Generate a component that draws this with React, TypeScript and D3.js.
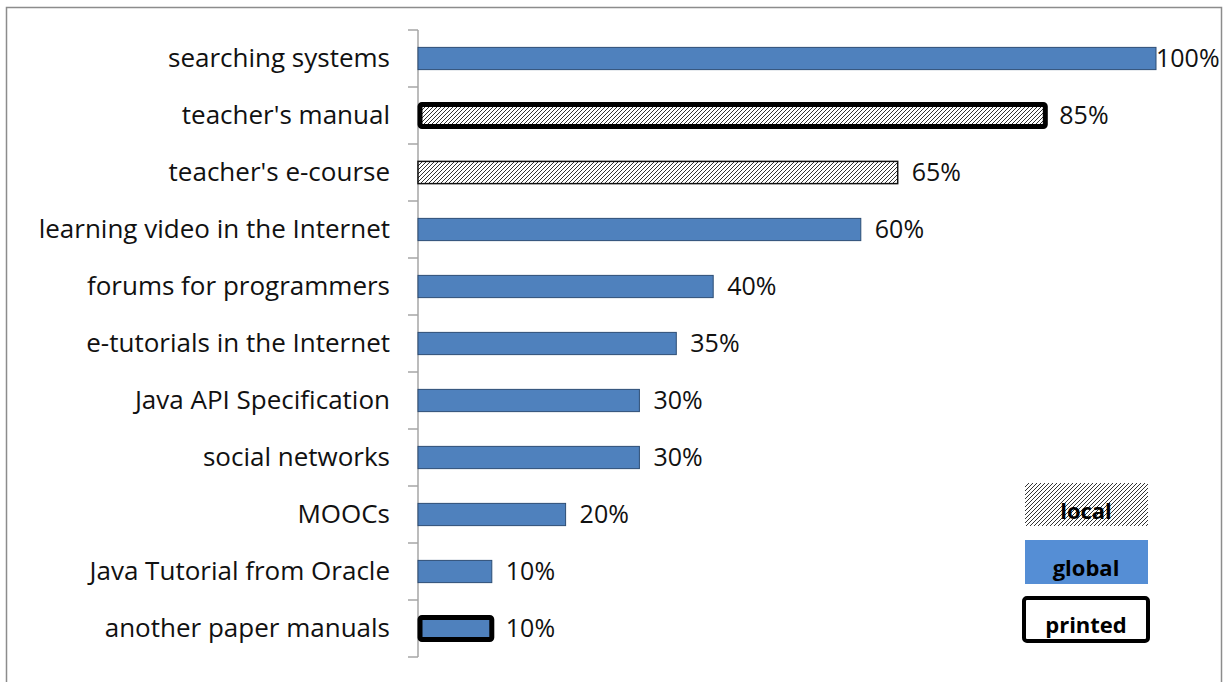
import React from "react";
import * as d3 from "d3";

const categories = [
  "searching systems",
  "teacher's manual",
  "teacher's e-course",
  "learning video in the Internet",
  "forums for programmers",
  "e-tutorials in the Internet",
  "Java API Specification",
  "social networks",
  "MOOCs",
  "Java Tutorial from Oracle",
  "another paper manuals",
];
const values = [100, 85, 65, 60, 40, 35, 30, 30, 20, 10, 10];
const kinds = ["global", "local", "local", "global", "global", "global", "global", "global", "global", "global", "global"];
const printed = [false, true, false, false, false, false, false, false, false, false, true];
const legendItems = ["local", "global", "printed"];

const W = 1227;
const H = 682;
const FONT = "'Open Sans', 'Noto Sans', sans-serif";

export default function App() {
  const x = d3.scaleLinear().domain([0, 100]).range([418, 1156]);
  const y = d3.scaleBand<string>().domain(categories).range([30, 657]).paddingInner(0.61).paddingOuter(0.305);
  const step = y.step();
  const ticks = d3.range(categories.length + 1).map((i) => 30 + i * step);
  const maxLabelX = 1156;

  return (
    <div style={{ position: "fixed", left: 0, top: 0 }}>
      <svg width={W} height={H} style={{ display: "block", background: "#fff" }}>
        <defs>
          <pattern id="hatch" patternUnits="userSpaceOnUse" width="4" height="4">
            <rect width="4" height="4" fill="#fff" />
            <path d="M-1,1 l2,-2 M0,4 l4,-4 M3,5 l2,-2" stroke="#333" strokeWidth="1" />
          </pattern>
        </defs>
        <rect x={6.5} y={7.5} width={1215} height={700} fill="none" stroke="#8c8c8c" strokeWidth={1.5} />
        {/* axis */}
        <line x1={418} x2={418} y1={30} y2={657} stroke="#a6a6a6" strokeWidth={1.5} />
        {ticks.map((t, i) => (
          <line key={i} x1={408} x2={418} y1={t} y2={t} stroke="#a6a6a6" strokeWidth={1.5} />
        ))}
        {categories.map((c, i) => {
          const y0 = y(c)!;
          const bh = y.bandwidth();
          const x1 = x(values[i]);
          const fill = kinds[i] === "local" ? "url(#hatch)" : "#4F81BD";
          const isP = printed[i];
          const lx = Math.min(x1 + 14, maxLabelX);
          return (
            <g key={c}>
              {isP ? (
                <rect x={x(0) + 2} y={y0} width={x1 - x(0) - 2} height={bh} fill={fill} stroke="#000" strokeWidth={5} rx={2} />
              ) : (
                <rect x={x(0)} y={y0} width={x1 - x(0)} height={bh} fill={fill}
                  stroke={kinds[i] === "local" ? "#111" : "#2c4d75"} strokeWidth={kinds[i] === "local" ? 1.5 : 1} />
              )}
              <text x={390} y={y0 + bh / 2 + 8} textAnchor="end" fontFamily={FONT} fontSize={26} fill="#111">{c}</text>
              <text x={lx} y={y0 + bh / 2 + 8.5} fontFamily={FONT} fontSize={25} fill="#111">{values[i]}%</text>
            </g>
          );
        })}
        {/* legend */}
        {legendItems.map((l, i) => {
          const ly = 483 + i * 57;
          return (
            <g key={l}>
              {l === "local" && <rect x={1025} y={ly} width={123} height={43} fill="url(#hatch)" />}
              {l === "global" && <rect x={1025} y={ly} width={123} height={44} fill="#558ED5" />}
              {l === "printed" && <rect x={1024} y={ly + 1} width={124} height={43} fill="#fff" stroke="#000" strokeWidth={4} rx={3} />}
              <text x={1086} y={ly + 36} textAnchor="middle" fontFamily={FONT} fontWeight="bold" fontSize={22} fill="#000">{l}</text>
            </g>
          );
        })}
      </svg>
    </div>
  );
}
